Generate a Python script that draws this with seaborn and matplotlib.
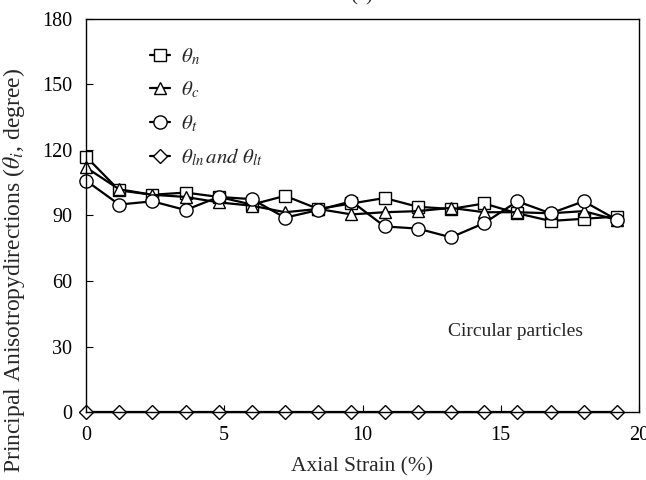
import matplotlib
matplotlib.use("Agg")
import matplotlib.pyplot as plt
import seaborn as sns
from matplotlib.lines import Line2D

strain = [0.0, 1.2, 2.4, 3.6, 4.8, 6.0, 7.2, 8.4, 9.6, 10.8, 12.0, 13.2, 14.4, 15.6, 16.8, 18.0, 19.2]
theta_n = [117, 101.5, 99.5, 100.5, 98.5, 95, 99, 93, 95.5, 98, 94, 93, 95.5, 91, 87.5, 88.5, 89.5]
theta_c = [112, 102, 99.5, 98.5, 96, 94.5, 91.5, 93, 90.5, 91.5, 92, 93.5, 91.5, 91.5, 91, 92, 88]
theta_t = [106, 95, 96.5, 92.5, 98.5, 97.5, 89, 92.5, 96.5, 85, 84, 80, 86.5, 96.5, 91, 96.5, 88]
theta_l = [0] * 17

labels = [r"$\theta_n$", r"$\theta_c$", r"$\theta_t$", r"$\theta_{ln}$$\,and\ \theta_{lt}$"]
markers = ["s", "^", "o", "D"]
msizes = [9, 9, 9.5, 7]

sns.set_theme(style="white")
plt.rcParams["font.family"] = ["Liberation Serif", "DejaVu Serif"]
plt.rcParams["mathtext.fontset"] = "stix"

fig = plt.figure(figsize=(6.46, 4.8), dpi=100)
ax = fig.add_axes([86 / 646, 1 - 412 / 480, 553 / 646, 393 / 480])

series = [theta_n, theta_c, theta_t, theta_l]
for vals, m, ms in zip(series, markers, msizes):
    sns.lineplot(x=strain, y=vals, ax=ax, color="black", linewidth=1.6,
                 marker=m, markersize=ms, markerfacecolor="white",
                 markeredgecolor="black", markeredgewidth=1.0, clip_on=False)

ax.set_xlim(0, 20)
ax.set_ylim(0, 180)
ax.set_xticks([0, 5, 10, 15, 20])
ax.set_yticks([0, 30, 60, 90, 120, 150, 180])
ax.tick_params(direction="in", length=5, width=0.8, labelsize=14.5, colors="black",
               bottom=True, left=True, pad=10)
for s in ax.spines.values():
    s.set_color("black")
    s.set_linewidth(1.0)

ax.set_xlabel("Axial Strain (%)", fontsize=15.5, labelpad=9)
ax.set_ylabel(r"Principal Anisotropydirections ($\theta_i$, degree)", fontsize=17)
ax.yaxis.set_label_coords(-0.107, 0.36)

ax.text(13.1, 37, "Circular particles", fontsize=14, va="center", ha="left")

handles = [Line2D([], [], color="black", linewidth=1.6, marker=m, markersize=ms,
                  markerfacecolor="white", markeredgecolor="black")
           for m, ms in zip(markers, msizes)]
leg = ax.legend(handles, labels, loc="upper left", bbox_to_anchor=(0.081, 0.977),
                frameon=False, fontsize=15, handlelength=1.0, handletextpad=0.5,
                labelspacing=0.6)

fig.text(0.56, 1.0 - 5 / 480, "(c)", fontsize=15, ha="center", va="bottom")

fig.savefig("out.png", dpi=100)
